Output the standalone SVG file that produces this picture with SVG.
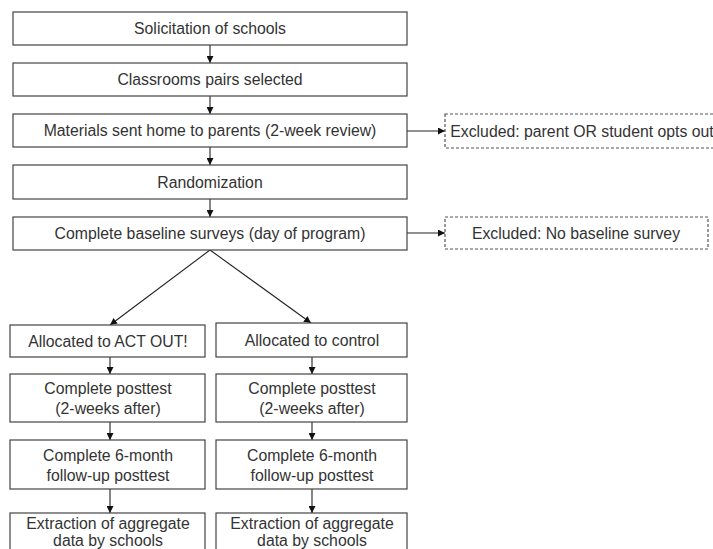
<svg xmlns="http://www.w3.org/2000/svg" width="713" height="549" viewBox="0 0 713 549">
<defs>
<marker id="ah" viewBox="0 0 10 10" refX="10" refY="5" markerWidth="7" markerHeight="7" orient="auto" markerUnits="userSpaceOnUse">
<path d="M0,0 L10,5 L0,10 z" fill="#111"/>
</marker>
<style>
.b{fill:#fff;stroke:#444;stroke-width:1.2}
.d{fill:#fff;stroke:#555;stroke-width:1.2;stroke-dasharray:3 2}
.t{font-family:"Liberation Sans",Arial,sans-serif;font-size:15.8px;fill:#333;text-anchor:middle}
.c{stroke:#222;stroke-width:1.1;fill:none;marker-end:url(#ah)}
</style>
</defs>
<rect width="713" height="549" fill="#fff"/>
<g id="connectors">
<line class="c" x1="210" y1="45" x2="210" y2="63"/>
<line class="c" x1="210" y1="96" x2="210" y2="114"/>
<line class="c" x1="210" y1="147" x2="210" y2="165"/>
<line class="c" x1="210" y1="199" x2="210" y2="217"/>
<line class="c" x1="407" y1="131" x2="445" y2="131"/>
<line class="c" x1="407" y1="233" x2="445" y2="233"/>
<line class="c" x1="210" y1="250" x2="110" y2="325"/>
<line class="c" x1="210" y1="250" x2="311" y2="323"/>
<line class="c" x1="110" y1="357" x2="110" y2="374"/>
<line class="c" x1="110" y1="422" x2="110" y2="440"/>
<line class="c" x1="110" y1="489" x2="110" y2="513"/>
<line class="c" x1="312" y1="357" x2="312" y2="374"/>
<line class="c" x1="312" y1="422" x2="312" y2="440"/>
<line class="c" x1="312" y1="489" x2="312" y2="513"/>
</g>
<g id="n1"><rect class="b" x="13" y="12" width="394" height="33"/><text class="t" x="210" y="34">Solicitation of schools</text></g>
<g id="n2"><rect class="b" x="13" y="63" width="394" height="33"/><text class="t" x="210" y="85">Classrooms pairs selected</text></g>
<g id="n3"><rect class="b" x="13" y="114" width="394" height="33"/><text class="t" x="210" y="136">Materials sent home to parents (2-week review)</text></g>
<g id="n4"><rect class="b" x="13" y="165" width="394" height="34"/><text class="t" x="210" y="188">Randomization</text></g>
<g id="n5"><rect class="b" x="13" y="217" width="394" height="33"/><text class="t" x="210" y="239">Complete baseline surveys (day of program)</text></g>
<g id="x1"><rect class="d" x="445" y="114" width="275" height="34"/><text class="t" x="582" y="137">Excluded: parent OR student opts out</text></g>
<g id="x2"><rect class="d" x="445" y="217" width="263" height="32"/><text class="t" x="576" y="239">Excluded: No baseline survey</text></g>
<g id="l1"><rect class="b" x="10" y="325" width="195" height="32"/><text class="t" x="108" y="347">Allocated to ACT OUT!</text></g>
<g id="l2"><rect class="b" x="10" y="374" width="195" height="48"/><text class="t" x="108" y="394">Complete posttest</text><text class="t" x="108" y="414">(2-weeks after)</text></g>
<g id="l3"><rect class="b" x="10" y="440" width="195" height="49"/><text class="t" x="108" y="461">Complete 6-month</text><text class="t" x="108" y="481">follow-up posttest</text></g>
<g id="l4"><rect class="b" x="10" y="513" width="195" height="45"/><text class="t" x="108" y="529">Extraction of aggregate</text><text class="t" x="108" y="546">data by schools</text></g>
<g id="r1"><rect class="b" x="216" y="323" width="191" height="34"/><text class="t" x="312" y="346">Allocated to control</text></g>
<g id="r2"><rect class="b" x="216" y="374" width="191" height="48"/><text class="t" x="312" y="394">Complete posttest</text><text class="t" x="312" y="414">(2-weeks after)</text></g>
<g id="r3"><rect class="b" x="216" y="440" width="191" height="49"/><text class="t" x="312" y="461">Complete 6-month</text><text class="t" x="312" y="481">follow-up posttest</text></g>
<g id="r4"><rect class="b" x="216" y="513" width="191" height="45"/><text class="t" x="312" y="529">Extraction of aggregate</text><text class="t" x="312" y="546">data by schools</text></g>
</svg>
